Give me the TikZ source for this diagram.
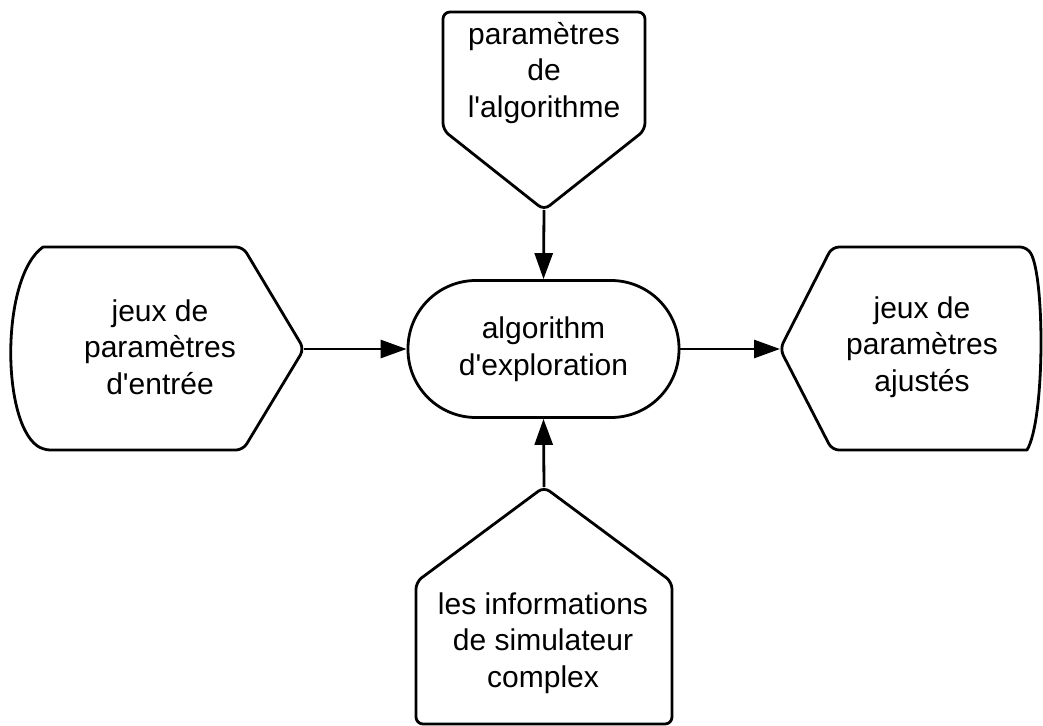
\documentclass[tikz,border=0pt]{standalone}
\usepackage{fontspec}
\setmainfont{Liberation Sans}
\usetikzlibrary{arrows.meta}
\begin{document}
\begin{tikzpicture}[x=1pt,y=-1pt,
  shapeline/.style={draw=black, line width=2.8pt, line join=round, rounded corners=7pt},
  label/.style={align=center, font=\fontsize{30}{36.5}\selectfont},
  flow/.style={draw=black, line width=2.8pt, -{Triangle[length=26pt,width=18pt]}}]
  \useasboundingbox (0,0) rectangle (1043,725);

  % input parameter sets (left)
  \draw[shapeline] (43,247) -- (243,247) -- (304,349) -- (243,450) -- (43,450)
    [sharp corners] .. controls (1,420) and (1,277) .. (43,247) -- cycle;
  \coordinate (inTip) at (304,349);
  \node[label] (inText) at (160,347) {jeux de\\paramètres\\d\textquotesingle entrée};

  % algorithm parameters (top)
  \draw[shapeline] (443,12) -- (645,12) -- (645,130) -- (544,210) -- (443,130) -- cycle;
  \coordinate (topTip) at (544,210);
  \node[label] (topText) at (544,73) {paramètres\\de\\l\textquotesingle algorithme};

  % simulator information (bottom)
  \draw[shapeline] (544,487) -- (672,582) -- (672,724) -- (416,724) -- (416,582) -- cycle;
  \coordinate (botTip) at (544,487);
  \node[label] (botText) at (543,643) {les informations\\de simulateur\\complex};

  % adjusted parameter sets (right)
  \draw[shapeline] (780,349) -- (832,247) -- (1027,247)
    [sharp corners] .. controls (1045,277) and (1045,420) .. (1027,450)
    [rounded corners=7pt] -- (832,450) -- cycle;
  \coordinate (outTip) at (780,349);
  \node[label] (outText) at (922,347) {jeux de\\paramètres\\ajustés};

  % central process
  \node[draw=black, line width=2.8pt, minimum width=271pt, minimum height=137pt,
        rounded corners=68pt, inner sep=0pt, label] (algo) at (543.5,349)
        {algorithm\\d\textquotesingle exploration};

  % connectors
  \draw[flow] (inTip) -- (algo.west);
  \draw[flow] (algo.east) -- (outTip);
  \draw[flow] (topTip) -- (algo.north);
  \draw[flow] (botTip) -- (algo.south);
\end{tikzpicture}
\end{document}
